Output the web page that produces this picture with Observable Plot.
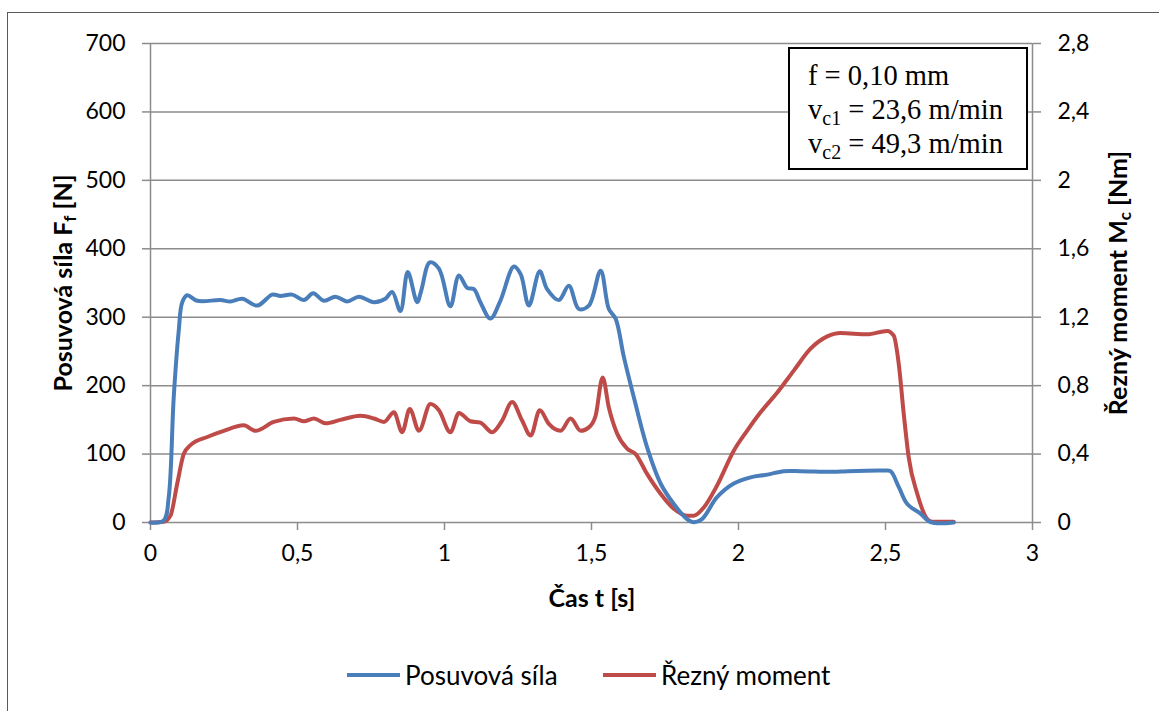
<!DOCTYPE html>
<html><head><meta charset="utf-8">
<script src="https://cdn.jsdelivr.net/npm/d3@7"></script>
<script src="https://cdn.jsdelivr.net/npm/@observablehq/plot@0.6"></script>
<style>
body{margin:0;background:#fff;}
#wrap{position:relative;width:1159px;height:711px;overflow:hidden;font-family:Lato,sans-serif;background:#fff;}
#frame{position:absolute;left:7px;top:12px;width:1170px;height:730px;border:1.5px solid #5a5a5a;box-sizing:border-box;}
#chart{position:absolute;left:0;top:0;}
#box{position:absolute;left:788px;top:47px;width:240px;height:123px;box-sizing:border-box;border:2px solid #000;background:#fff;
  font-family:"Liberation Serif","Times New Roman",serif;font-size:28.5px;line-height:34px;padding:10px 0 0 18px;color:#000;}
#box sub{font-size:20px;vertical-align:-6px;line-height:0;}
#legend{position:absolute;top:660px;left:347px;font-size:26px;color:#000;}
.item{position:absolute;top:0;display:flex;align-items:center;white-space:nowrap;height:30px;}
.sw{display:inline-block;width:53px;height:4px;margin-right:5px;}
</style></head><body>
<div id="wrap">
  <div id="frame"></div>
  <div id="chart"></div>
  <div id="box"><div>f = 0,10 mm</div><div>v<sub>c1</sub> = 23,6 m/min</div><div>v<sub>c2</sub> = 49,3 m/min</div></div>
  <div id="legend">
    <div class="item" style="left:0"><span class="sw" style="background:#4A7EBB"></span>Posuvová síla</div>
    <div class="item" style="left:256px"><span class="sw" style="background:#BE4B48"></span>Řezný moment</div>
  </div>
</div>
<script>
// Time axis (s)
const timeTicks = [0, 0.5, 1, 1.5, 2, 2.5, 3];
const timeTickLabels = ["0", "0,5", "1", "1,5", "2", "2,5", "3"];
// Left axis: feed force (N)
const forceTicks = [0, 100, 200, 300, 400, 500, 600, 700];
// Right axis: cutting moment (Nm)
const momentTicks = [0, 0.4, 0.8, 1.2, 1.6, 2, 2.4, 2.8];
const momentTickLabels = ["0", "0,4", "0,8", "1,2", "1,6", "2", "2,4", "2,8"];

// Posuvová síla F_f [N]
const forceTime = [0, 0.045, 0.062, 0.079, 0.096, 0.108, 0.125, 0.159, 0.238, 0.272, 0.312, 0.363, 0.414, 0.442, 0.482, 0.522, 0.553, 0.590, 0.629, 0.669, 0.709, 0.760, 0.799, 0.822, 0.850, 0.875, 0.907, 0.921, 0.950, 0.981, 1.020, 1.049, 1.077, 1.100, 1.122, 1.156, 1.190, 1.236, 1.259, 1.287, 1.324, 1.349, 1.389, 1.423, 1.457, 1.491, 1.531, 1.559, 1.582, 1.610, 1.644, 1.689, 1.735, 1.780, 1.825, 1.848, 1.876, 1.927, 1.984, 2.041, 2.098, 2.154, 2.211, 2.324, 2.370, 2.494, 2.517, 2.545, 2.574, 2.619, 2.653, 2.732];
const forceValues = [0, 3, 37, 183, 280, 322, 332, 324, 325, 323, 327, 317, 333, 331, 333, 325, 335, 324, 330, 323, 330, 322, 327, 337, 309, 366, 322, 339, 380, 371, 316, 361, 343, 341, 322, 298, 324, 374, 363, 317, 367, 341, 325, 346, 312, 317, 368, 312, 298, 242, 183, 110, 57, 27, 5, 0.5, 5, 37, 57, 66, 70, 75, 75, 74, 75, 76, 75, 52, 27, 13, 0.5, 0];

// Řezný moment M_c [Nm]
const momentTime = [0, 0.045, 0.068, 0.091, 0.113, 0.136, 0.193, 0.249, 0.317, 0.357, 0.419, 0.488, 0.522, 0.556, 0.595, 0.646, 0.714, 0.760, 0.794, 0.828, 0.856, 0.882, 0.913, 0.952, 0.981, 1.020, 1.049, 1.088, 1.122, 1.162, 1.196, 1.230, 1.264, 1.293, 1.324, 1.355, 1.395, 1.429, 1.463, 1.491, 1.514, 1.538, 1.559, 1.587, 1.621, 1.650, 1.689, 1.735, 1.780, 1.825, 1.848, 1.882, 1.927, 1.984, 2.029, 2.075, 2.132, 2.188, 2.245, 2.302, 2.347, 2.438, 2.506, 2.528, 2.545, 2.562, 2.579, 2.608, 2.642, 2.659, 2.732];
const momentValues = [0, 0.004, 0.04, 0.228, 0.40, 0.452, 0.50, 0.536, 0.568, 0.536, 0.588, 0.608, 0.592, 0.608, 0.58, 0.60, 0.624, 0.608, 0.588, 0.644, 0.528, 0.664, 0.536, 0.692, 0.656, 0.528, 0.64, 0.592, 0.584, 0.528, 0.596, 0.704, 0.596, 0.508, 0.656, 0.576, 0.536, 0.608, 0.536, 0.556, 0.624, 0.848, 0.672, 0.52, 0.432, 0.40, 0.284, 0.168, 0.08, 0.04, 0.04, 0.088, 0.216, 0.42, 0.536, 0.644, 0.76, 0.888, 1.016, 1.088, 1.108, 1.10, 1.12, 1.092, 0.928, 0.636, 0.38, 0.168, 0.02, 0.004, 0.004];

const forceData = forceTime.map((t, i) => ({t, v: forceValues[i]}));
const momentData = momentTime.map((t, i) => ({t, m: momentValues[i]}));
// right axis maps 0–2.8 Nm onto the 0–700 N scale
const nPerNm = 700 / 2.8;

const grey = "#8c8c8c";
const chart = Plot.plot({
  width: 1159, height: 625,
  marginLeft: 150, marginRight: 127, marginTop: 43, marginBottom: 103,
  x: {domain: [0, 3]},
  y: {domain: [0, 700]},
  style: {fontFamily: "Lato, sans-serif", fontSize: "23px", color: "#000", background: "transparent", overflow: "visible"},
  marks: [
    Plot.gridY(forceTicks, {stroke: grey, strokeOpacity: 1, strokeWidth: 1.5}),
    Plot.ruleX([0, 3], {stroke: grey, strokeWidth: 1.5}),
    Plot.axisY(forceTicks, {anchor: "left", tickSize: 8, tickPadding: 17, stroke: grey, strokeWidth: 1.5, label: null, tickFormat: d => String(d)}),
    Plot.axisY(momentTicks.map(m => m * nPerNm), {anchor: "right", tickSize: 8, tickPadding: 17, stroke: grey, strokeWidth: 1.5, label: null,
      tickFormat: d => momentTickLabels[momentTicks.findIndex(m => Math.abs(m * nPerNm - d) < 1e-6)]}),
    Plot.axisX(timeTicks, {tickSize: 8, tickPadding: 14, stroke: grey, strokeWidth: 1.5, label: null,
      tickFormat: d => timeTickLabels[timeTicks.indexOf(d)]}),
    Plot.line(momentData, {x: "t", y: d => d.m * nPerNm, stroke: "#BE4B48", strokeWidth: 4, curve: "monotone-x"}),
    Plot.line(forceData, {x: "t", y: "v", stroke: "#4A7EBB", strokeWidth: 4, curve: "catmull-rom"})
  ]
});
document.getElementById("chart").appendChild(chart);

const svg = d3.select(chart);
function title(x, y, rot, main, sub, tail) {
  const t = svg.append("text")
    .attr("transform", `translate(${x},${y}) rotate(${rot})`)
    .attr("text-anchor", "middle").attr("dominant-baseline", "middle")
    .attr("font-family", "Lato, sans-serif").attr("font-weight", "bold").attr("font-size", 25).attr("fill", "#000");
  t.append("tspan").text(main);
  if (sub) {
    t.append("tspan").attr("dy", 6).attr("font-size", 17).text(sub);
    t.append("tspan").attr("dy", -6).text(tail);
  }
}
title(66, 283, -90, "Posuvová síla F", "f", " [N]");
title(1121, 283, -90, "Řezný moment M", "c", " [Nm]");
title(592, 601, 0, "Čas t [s]");
</script>
</body></html>
